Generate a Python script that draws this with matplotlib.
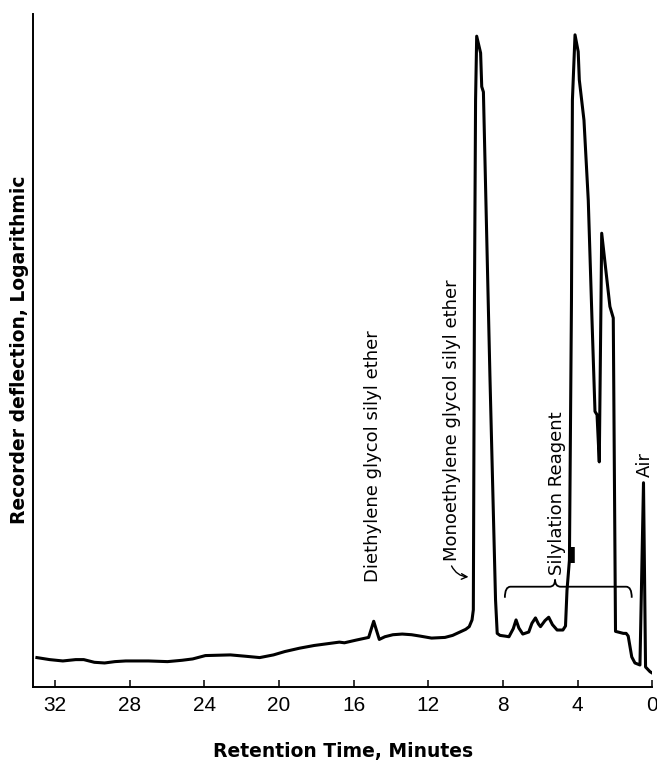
import matplotlib
matplotlib.use("Agg")
import matplotlib.pyplot as plt
from matplotlib.path import Path
from matplotlib.patches import PathPatch

# Chromatogram trace: retention time (min) vs deflection (0-100)
time_min = [
    32.98, 32.3, 31.59, 30.9, 30.47, 29.9, 29.35, 28.8, 28.22, 27.0,
    25.98, 25.2, 24.63, 23.95, 22.61, 21.8, 21.04, 20.3, 19.69, 18.9,
    18.12, 16.77, 16.5, 15.87, 15.20, 14.93, 14.63, 14.33, 13.9, 13.40,
    12.9, 12.45, 11.83, 11.11, 10.7, 10.31, 10.0, 9.81, 9.66, 9.59,
    9.53, 9.47, 9.41, 9.20, 9.14, 9.05, 8.70, 8.40, 8.31, 8.16,
    7.9, 7.68, 7.45, 7.30, 7.15, 6.94, 6.62, 6.45, 6.26, 6.1,
    5.99, 5.75, 5.55, 5.35, 5.10, 4.79, 4.65, 4.57, 4.44, 4.33,
    4.28, 4.14, 3.97, 3.91, 3.66, 3.43, 3.23, 3.07, 2.96, 2.84,
    2.71, 2.27, 2.09, 1.97, 1.55, 1.40, 1.29, 1.10, 0.93, 0.66,
    0.47, 0.36, 0.12, 0.00,
]
deflection = [
    4.3, 4.0, 3.8, 4.0, 4.0, 3.6, 3.5, 3.7, 3.8, 3.8,
    3.7, 3.9, 4.1, 4.6, 4.7, 4.5, 4.3, 4.7, 5.2, 5.7,
    6.1, 6.6, 6.5, 6.9, 7.3, 9.7, 7.0, 7.4, 7.7, 7.8,
    7.7, 7.5, 7.2, 7.3, 7.6, 8.1, 8.5, 8.9, 9.9, 11.4,
    57.5, 87.2, 96.7, 94.2, 89.2, 88.4, 46.1, 12.9, 7.9, 7.6,
    7.5, 7.4, 8.6, 9.9, 8.7, 7.8, 8.1, 9.4, 10.2, 9.3,
    8.9, 9.8, 10.3, 9.2, 8.4, 8.4, 9.0, 14.3, 18.8, 57.5,
    87.2, 96.9, 94.4, 90.2, 84.2, 72.3, 54.5, 40.9, 40.4, 33.4,
    67.4, 56.5, 54.8, 8.2, 7.9, 7.9, 7.5, 4.4, 3.5, 3.2,
    30.3, 2.9, 2.2, 2.0,
]

# small heavy pen mark on the rising edge of the reagent peak
mark_time = [4.29, 4.29]
mark_defl = [18.4, 20.8]

x_ticks = [32, 28, 24, 20, 16, 12, 8, 4, 0]

labels = [
    ("Diethylene glycol silyl ether", 14.95, 15.5),
    ("Monoethylene glycol silyl ether", 10.71, 18.6),
    ("Silylation Reagent", 5.11, 16.6),
    ("Air", 0.39, 31.2),
]

# brace under "Silylation Reagent"
brace_left, brace_right, brace_mid = 7.9, 1.1, 5.21
brace_level, brace_foot, brace_tip = 14.84, 13.2, 15.9

fig = plt.figure(figsize=(6.57, 7.60), dpi=100)
ax = fig.add_axes([0.0502, 0.0967, 0.9426, 0.8849])

ax.plot(time_min, deflection, color="black", lw=2.2, solid_joinstyle="round")
ax.plot(mark_time, mark_defl, color="black", lw=4.0, solid_capstyle="butt")

ax.set_xlim(33.19, 0)
ax.set_ylim(0, 100)

for s in ("top", "right"):
    ax.spines[s].set_visible(False)
for s in ("left", "bottom"):
    ax.spines[s].set_linewidth(1.4)

ax.set_yticks([])
ax.set_xticks(x_ticks)
ax.set_xticklabels([str(t) for t in x_ticks], family="Liberation Sans", fontsize=15)
ax.tick_params(axis="x", direction="in", length=5, width=1.1, pad=6.5)

ax.set_xlabel("Retention Time, Minutes", fontsize=13.5, fontweight="bold")
ax.xaxis.set_label_coords(0.5, -0.082)
ax.set_ylabel("Recorder deflection, Logarithmic", fontsize=13.5, fontweight="bold")
ax.yaxis.set_label_coords(-0.006, 0.5)

for text, tx, ty in labels:
    ax.text(tx, ty, text, rotation=90, ha="center", va="bottom", fontsize=13)

# curved arrow from the monoethylene label to its peak
ax.annotate("", xy=(9.70, 16.3), xytext=(10.82, 18.3),
            arrowprops=dict(arrowstyle="->", lw=1.0, color="black",
                            connectionstyle="arc3,rad=0.35"))

# brace drawn as a path
r = 0.3
verts = [
    (brace_left, brace_foot),
    (brace_left, brace_level), (brace_left - r, brace_level),
    (brace_mid + r, brace_level),
    (brace_mid, brace_level), (brace_mid, brace_tip),
    (brace_mid, brace_level), (brace_mid - r, brace_level),
    (brace_right + r, brace_level),
    (brace_right, brace_level), (brace_right, brace_foot),
]
codes = [Path.MOVETO, Path.CURVE3, Path.CURVE3, Path.LINETO,
         Path.CURVE3, Path.CURVE3, Path.CURVE3, Path.CURVE3,
         Path.LINETO, Path.CURVE3, Path.CURVE3]
ax.add_patch(PathPatch(Path(verts, codes), fill=False, lw=1.3, color="black"))

fig.savefig("out.png", dpi=100)
